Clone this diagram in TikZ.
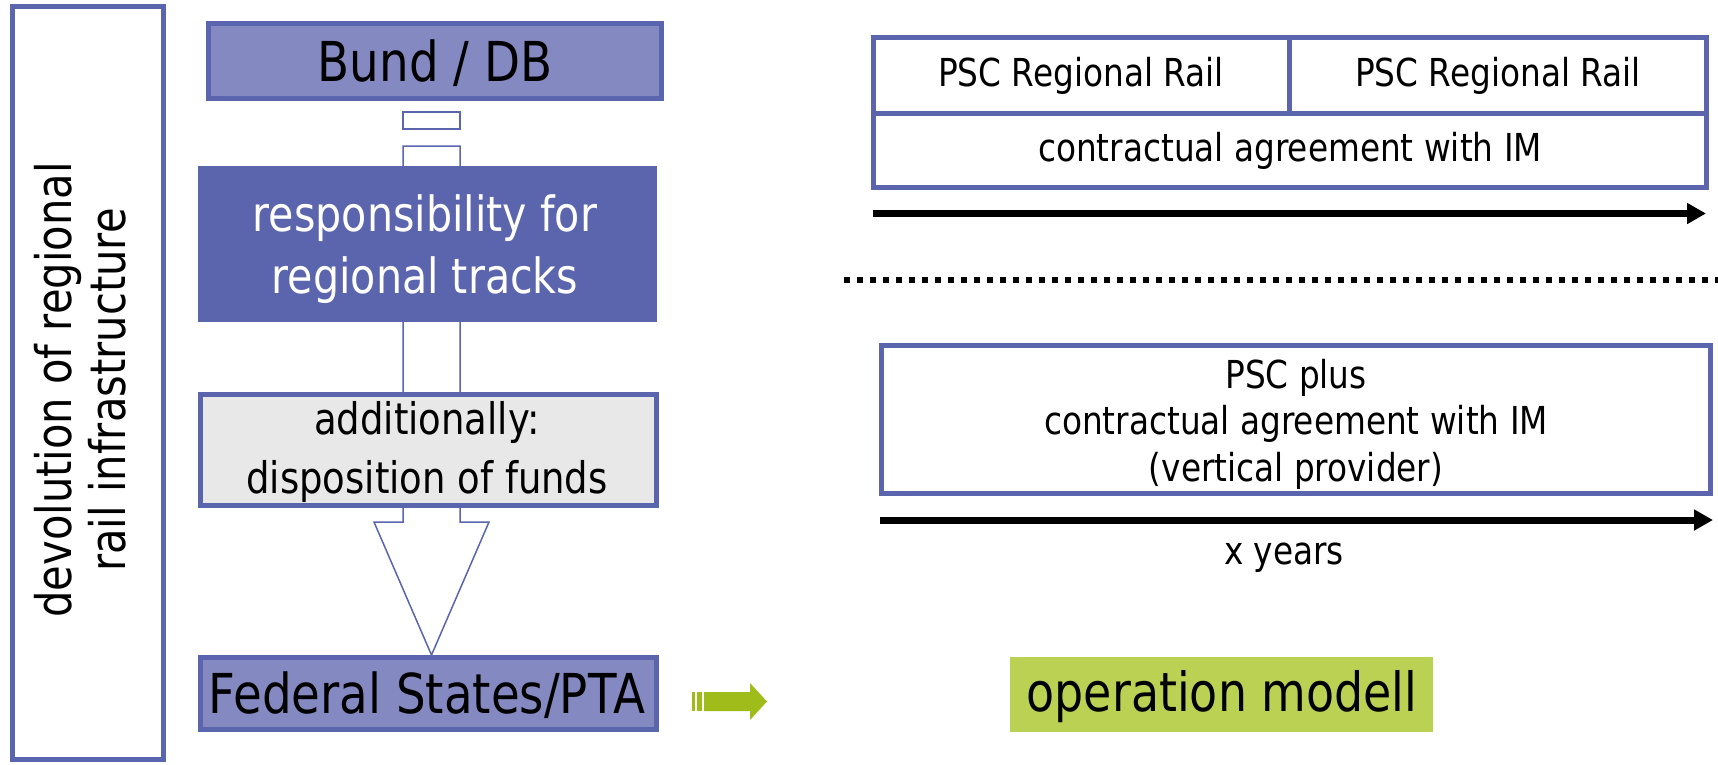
\documentclass[tikz,border=0pt]{standalone}
\usepackage{fontspec}
\setmainfont{DejaVu Sans}[FakeStretch=0.85]
\usetikzlibrary{arrows.meta}
\definecolor{bordercol}{HTML}{5B65AD}
\definecolor{lightblue}{HTML}{8489C1}
\definecolor{darkblue}{HTML}{5B65AD}
\definecolor{graybox}{HTML}{E8E8E8}
\definecolor{greenbox}{HTML}{BBD153}
\definecolor{greenarrow}{HTML}{A0BC1A}
\newcommand{\fs}[1]{\fontsize{#1pt}{#1pt}\selectfont}
\tikzset{
  box/.style={draw=bordercol, line width=5pt, inner sep=0pt, outer sep=0pt},
  blockarrow/.style={draw=bordercol, line width=1.5pt, fill=white},
  timearrow/.style={line width=7pt, -{Triangle[length=19pt,width=20pt]}},
  sep/.style={line width=6pt, dash pattern=on 6pt off 7pt},
  txt/.style={align=center, inner sep=0pt}
}
\begin{document}
\begin{tikzpicture}[x=1pt,y=-1pt]
\useasboundingbox (0,0) rectangle (1718,764);
% left frame
\draw[box] (12,6) rectangle (163,759);
\node[txt, rotate=90, font=\fs{49}] (devo) at (80,390)
  {devolution of regional\\[5pt]rail infrastructure};
% hollow block arrow (behind boxes)
\draw[blockarrow] (403,112) rectangle (460,129);
\draw[blockarrow] (403,146) -- (403,522) -- (374,522) -- (431.5,655) -- (489,522) -- (460,522) -- (460,146) -- cycle;
% left column boxes
\draw[box, fill=lightblue] (208.5,23.5) rectangle (661.5,98.5);
\node[txt, font=\fs{55}] (bund) at (435,63) {Bund / DB};
\fill[darkblue] (198,166) rectangle (657,322);
\node[txt, font=\fs{48.5}, text=white] (resp) at (425,249) {responsibility for\\[14pt]regional tracks};
\draw[box, fill=graybox] (200.5,394.5) rectangle (656.5,505.5);
\node[txt, font=\fs{43.5}] (addl) at (427,452) {additionally:\\[16pt]disposition of funds};
\draw[box, fill=lightblue] (200.5,657.5) rectangle (656.5,729.5);
\node[txt, font=\fs{55}] (fed) at (427,695) {Federal States/PTA};
% green striped arrow
\fill[greenarrow] (692,692) rectangle (695,711);
\fill[greenarrow] (697,692) rectangle (702,711);
\fill[greenarrow] (704,692) -- (750,692) -- (750,683) -- (767,701.5) -- (750,720) -- (750,711) -- (704,711) -- cycle;
% operation modell
\fill[greenbox] (1010,657) rectangle (1433,732);
\node[txt, font=\fs{54}] (op) at (1222,697) {operation modell};
% top right boxes
\draw[box] (873.5,37.5) rectangle (1706.5,187.5);
\draw[box] (873.5,113) -- (1706.5,113);
\draw[box] (1289,37.5) -- (1289,113);
\node[txt, font=\fs{38.5}] (psc1) at (1081,76) {PSC Regional Rail};
\node[txt, font=\fs{38.5}] (psc2) at (1498,76) {PSC Regional Rail};
\node[txt, font=\fs{38.5}] (ca) at (1290,151) {contractual agreement with IM};
\coordinate (t1s) at (873,213.5);
\coordinate (t1e) at (1706,213.5);
\draw[timearrow] (t1s) -- (t1e);
% separator
\coordinate (ds) at (844,280);
\coordinate (de) at (1718,280);
\draw[sep] (ds) -- (de);
% lower box
\draw[box] (881,345) rectangle (1710,493.5);
\node[txt, font=\fs{38.5}] (pscplus) at (1296,424) {PSC plus\\[8pt]contractual agreement with IM\\[8pt](vertical provider)};
\coordinate (t2s) at (880,520);
\coordinate (t2e) at (1713,520);
\draw[timearrow] (t2s) -- (t2e);
\node[txt, font=\fs{38.5}] (xy) at (1284,558) {x years};
\end{tikzpicture}
\end{document}
